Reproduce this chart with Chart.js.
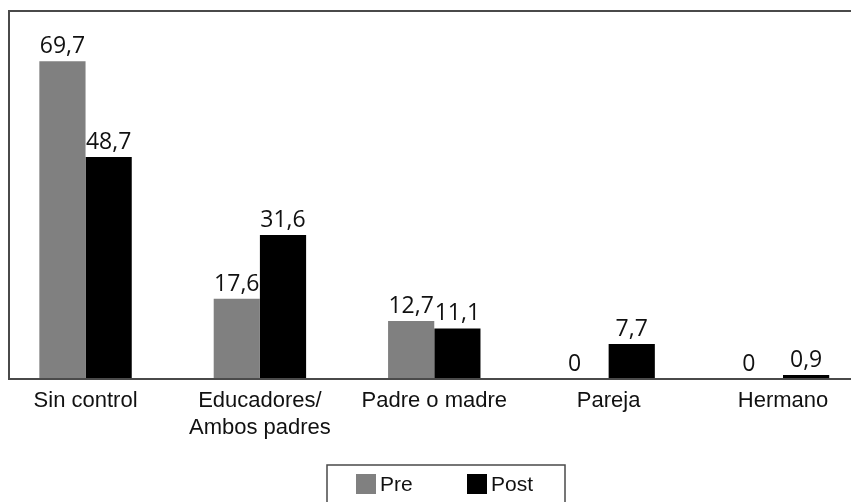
<!DOCTYPE html>
<html lang="es">
<head>
    <meta charset="UTF-8">
    <title>Pre / Post</title>
    <script src="https://cdn.jsdelivr.net/npm/chart.js@4.4.0/dist/chart.umd.min.js"></script>
    <style>
        body { margin: 0; background: #fff; overflow: hidden; }
        canvas { display: block; }
    </style>
</head>
<body>
    <canvas id="grafico" width="851" height="502"></canvas>

    <script>
        // Datos
        const categorias = ['Sin control', ['Educadores/', 'Ambos padres'], 'Padre o madre', 'Pareja', 'Hermano'];
        const valoresPre = [69.7, 17.6, 12.7, 0, 0];
        const valoresPost = [48.7, 31.6, 11.1, 7.7, 0.9];
        const nombresSeries = ['Pre', 'Post'];
        const coloresSeries = ['#808080', '#000000'];

        const colorLinea = '#4a4a4a';
        const fuenteEjes = '"Liberation Sans", Arial, sans-serif';
        const fuenteValores = '"Open Sans", "Noto Sans", sans-serif';

        // Marco: línea superior, izquierda y eje inferior
        const marco = {
            id: 'marco',
            afterDatasetsDraw(chart) {
                const { ctx, chartArea: a } = chart;
                ctx.save();
                ctx.strokeStyle = colorLinea;
                ctx.lineWidth = 2;
                ctx.beginPath();
                ctx.moveTo(chart.width, a.top);
                ctx.lineTo(a.left, a.top);
                ctx.lineTo(a.left, a.bottom);
                ctx.lineTo(chart.width, a.bottom);
                ctx.stroke();
                ctx.restore();
            }
        };

        // Etiquetas de valor encima de cada barra
        const etiquetas = {
            id: 'etiquetas',
            afterDatasetsDraw(chart) {
                const ctx = chart.ctx;
                ctx.save();
                ctx.font = '23px ' + fuenteValores;
                ctx.fillStyle = '#111';
                ctx.textAlign = 'center';
                ctx.textBaseline = 'bottom';
                chart.data.datasets.forEach((ds, i) => {
                    chart.getDatasetMeta(i).data.forEach((bar, j) => {
                        const v = ds.data[j].y;
                        const texto = String(v).replace('.', ',');
                        const dx = v === 0 ? -11 : 0;
                        ctx.fillText(texto, bar.x + dx, bar.y - 3);
                    });
                });
                ctx.restore();
            }
        };

        // Leyenda en recuadro, abajo
        const leyenda = {
            id: 'leyenda',
            afterDraw(chart) {
                const ctx = chart.ctx;
                const izq = 327, arriba = 465, ancho = 238;
                ctx.save();
                ctx.strokeStyle = colorLinea;
                ctx.lineWidth = 1.5;
                ctx.strokeRect(izq, arriba, ancho, 60);
                ctx.font = '21px ' + fuenteEjes;
                ctx.textBaseline = 'middle';
                chart.data.datasets.forEach((ds, i) => {
                    const x = izq + 29 + i * 111;
                    ctx.fillStyle = ds.backgroundColor;
                    ctx.fillRect(x, 474, 20, 20);
                    ctx.fillStyle = '#111';
                    ctx.fillText(ds.label, x + 24, 485);
                });
                ctx.restore();
            }
        };

        const conjuntos = [valoresPre, valoresPost].map((valores, i) => ({
            label: nombresSeries[i],
            data: valores.map((v, j) => ({ x: j, y: v })),
            backgroundColor: coloresSeries[i],
            borderWidth: 0,
            categoryPercentage: 0.53,
            barPercentage: 1.0
        }));

        new Chart(document.getElementById('grafico'), {
            type: 'bar',
            data: { datasets: conjuntos },
            options: {
                responsive: false,
                animation: false,
                layout: { padding: { top: 11, left: 9, right: 0, bottom: 57 } },
                plugins: {
                    legend: { display: false },
                    tooltip: { enabled: false }
                },
                scales: {
                    x: {
                        type: 'linear',
                        offset: false,
                        min: -0.439,
                        max: 4.39,
                        grid: { display: false, drawTicks: false, offset: false },
                        border: { display: false },
                        afterBuildTicks(scale) {
                            scale.ticks = categorias.map((_, i) => ({ value: i }));
                        },
                        afterFit(scale) { scale.height = 66; },
                        ticks: {
                            autoSkip: false,
                            maxRotation: 0,
                            padding: 8,
                            color: '#111',
                            font: { family: fuenteEjes, size: 22, lineHeight: 1.25 },
                            callback: (valor) => categorias[valor]
                        }
                    },
                    y: {
                        display: false,
                        min: 0,
                        max: 80.7
                    }
                }
            },
            plugins: [marco, etiquetas, leyenda]
        });
    </script>
</body>
</html>
